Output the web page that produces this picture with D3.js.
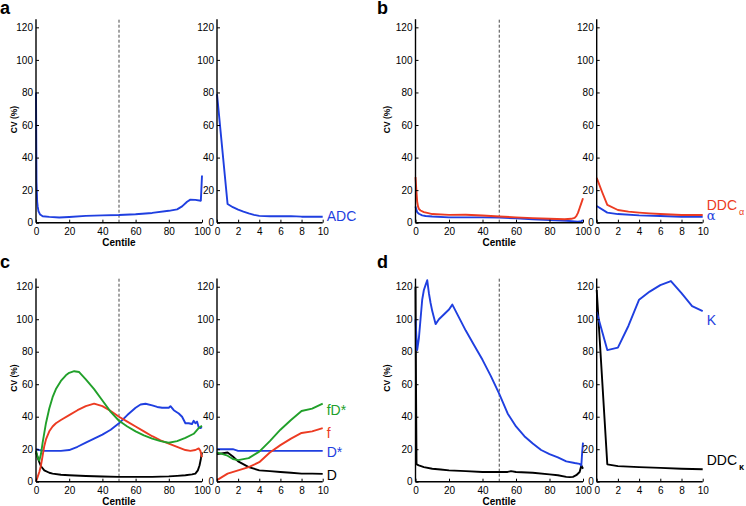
<!DOCTYPE html>
<html>
<head>
<meta charset="utf-8">
<script src="https://cdn.jsdelivr.net/npm/d3@7"></script>
<style>
  html, body { margin: 0; padding: 0; background: #fff; }
  svg { display: block; font-family: "Liberation Sans", Arial, Helvetica, sans-serif; }
</style>
</head>
<body>
<svg id="chart" width="746" height="506"></svg>
<script>
// ---------------- DATA ----------------
const yTicks = [0, 20, 40, 60, 80, 100, 120];
const mainTicks = [0, 20, 40, 60, 80, 100];
const insetTicks = [0, 2, 4, 6, 8, 10];
const panelLetters = ["a", "b", "c", "d"];

// Panel a: ADC
const aADC_x = [0, 0.3, 0.7, 1, 1.5, 2.5, 4, 8, 14, 20, 30, 40, 50, 60, 70, 80, 85, 88, 91, 93, 96, 99.3, 99.6, 100];
const aADC_y = [80, 25, 13, 10, 7, 5, 4, 3.6, 3.2, 3.5, 4.2, 4.5, 4.7, 5.2, 6, 7.3, 8.2, 10, 12.9, 14.2, 14, 13.5, 20, 29];
const aADCin_x = [0, 1, 1.5, 2, 2.5, 3, 3.5, 4, 5, 6, 7, 7.5, 8, 9, 10];
const aADCin_y = [79, 11.5, 9.5, 8, 6.8, 5.7, 4.8, 4.2, 4, 4, 4, 3.9, 3.7, 3.7, 3.7];

// Panel b: DDC alpha (red), alpha (blue)
const bDDC_x = [0, 0.5, 1, 1.5, 2, 3, 5, 7, 10, 20, 30, 40, 50, 60, 70, 80, 89, 93, 95, 96, 97, 98, 99, 100];
const bDDC_y = [28, 20, 13, 10, 8.5, 7.5, 6.5, 6, 5.3, 4.8, 4.9, 4.4, 3.8, 3.3, 2.8, 2.4, 2.1, 2.4, 3, 4, 6, 9, 12, 15];
const bAlpha_x = [0, 0.5, 1, 2, 4, 6, 10, 20, 40, 50, 60, 70, 80, 90, 95, 97, 99, 100];
const bAlpha_y = [10, 8, 6.5, 5.5, 4.5, 4.1, 3.8, 3.3, 3.3, 3.1, 2.7, 2.1, 1.7, 1.2, 0.8, 0.6, 1, 1.6];
const bDDCin_x = [0, 0.5, 1, 2, 3, 4, 5, 6, 7, 8, 9, 10];
const bDDCin_y = [27.5, 19, 10.9, 7.8, 6.8, 6.2, 5.7, 5.3, 5, 4.7, 4.7, 4.7];
const bAlphain_x = [0, 1, 2, 4, 6, 8, 10];
const bAlphain_y = [10.3, 6.2, 5.3, 4.5, 4.1, 3.7, 3.7];

// Panel c: fD* (green), f (red), D* (blue), D (black)
const cFDs_x = [0, 1, 2, 3, 4, 5, 6, 8, 10, 12, 15, 18, 20, 23, 26, 30, 35, 40, 45, 50, 55, 60, 65, 70, 75, 80, 85, 90, 95, 98, 100];
const cFDs_y = [19, 15, 13, 17, 24, 30, 36, 45, 52, 57, 62, 65.5, 67, 68, 67.5, 63, 57, 50, 43, 37.5, 34, 31, 28.5, 26.5, 25, 24, 25, 27, 29.5, 33, 34.5];
const cF_x = [0, 1, 2, 3, 4, 5, 6, 8, 10, 12, 15, 20, 25, 30, 35, 40, 45, 50, 55, 60, 65, 70, 75, 80, 85, 90, 93, 96, 98, 99, 100];
const cF_y = [0, 3, 6, 10, 16, 22, 26, 31, 34, 36, 38, 41, 44, 46.5, 48, 46.5, 43.5, 40, 37, 34, 31, 28, 25.5, 23.5, 21.5, 19.5, 19, 19.5, 20.5, 19, 15];
const cDs_x = [0, 2, 5, 10, 15, 20, 25, 30, 35, 40, 45, 50, 55, 60, 63, 66, 70, 73, 76, 80, 81, 83, 86, 88, 90, 92, 94, 95, 96, 97, 98, 99, 100];
const cDs_y = [20, 19.5, 19, 19, 19, 19.5, 21.5, 24, 26.5, 29, 32, 36, 41, 45.5, 47.5, 48, 47, 46, 45.5, 45.5, 46.5, 44, 42, 40, 36, 36, 35.5, 37.5, 36, 37, 33.5, 33, 33.5];
const cD_x = [0, 1, 2, 3, 5, 8, 10, 15, 20, 30, 40, 50, 60, 70, 80, 85, 90, 94, 96, 97.5, 98.5, 99.3, 100];
const cD_y = [18, 15, 12, 9.5, 7, 5.5, 5, 4.3, 4, 3.5, 3.2, 3, 3, 3, 3.3, 3.6, 4, 4.5, 5, 7, 10, 14, 18];
const cFDsin_x = [0, 1, 1.5, 2, 3, 4, 5, 6, 7, 8, 9, 10];
const cFDsin_y = [18, 16, 14, 13.3, 14.5, 18.5, 25, 32, 38, 43.5, 45, 48];
const cFin_x = [0, 1, 2, 3, 4, 5, 6, 7, 8, 9, 10];
const cFin_y = [1, 5, 7, 9, 12, 18, 22.5, 26.5, 30, 31, 33];
const cDsin_x = [0, 1.5, 2, 10];
const cDsin_y = [20, 20, 19, 19];
const cDin_x = [0, 1, 1.5, 2, 3, 4, 5, 6, 7, 8, 9, 10];
const cDin_y = [17, 18, 15.5, 12.5, 9, 7, 6.5, 6, 5.5, 5, 5, 4.8];

// Panel d: K (blue), DDC kappa (black)
const dK_x = [0, 0.5, 1, 2, 3, 4, 5, 6, 7, 8, 9, 10, 12, 14, 16, 18, 20, 22, 23, 25, 30, 35, 40, 45, 50, 55, 60, 65, 70, 75, 80, 85, 90, 95, 98, 99, 99.5, 100];
const dK_y = [100, 90, 81, 88, 100, 112, 118, 121, 124, 116, 110, 105, 97, 100, 102, 104, 106, 109, 107, 103, 93, 84, 75, 65, 54, 42, 34, 28, 23.5, 19.5, 17, 15, 12.5, 11.5, 11, 10, 18, 24];
const dDDC_x = [0, 0.3, 0.6, 1, 2, 5, 10, 15, 20, 30, 40, 50, 55, 57, 60, 70, 80, 85, 90, 92, 94, 96, 98, 99, 100];
const dDDC_y = [120, 60, 11, 10.5, 10, 9, 8, 7.5, 7, 6.5, 6, 6, 6, 6.5, 6, 5.5, 4.5, 4, 3, 2.8, 3, 4, 6, 10, 8];
const dKin_x = [0, 1, 2, 3, 4, 5, 6, 7, 8, 9, 10];
const dKin_y = [104.5, 81, 82.5, 96, 112, 117, 121, 123.5, 116, 108, 105];
const dDDCin_x = [0, 1, 2, 4, 6, 8, 10];
const dDDCin_y = [118, 10.7, 9.6, 9, 8.5, 8, 7.7];

// ---------------- STYLE / LAYOUT ----------------
const BLUE = "#1f3fe0", RED = "#ec3b22", GREEN = "#21a02a", BLACK = "#000";
const svg = d3.select("#chart");

const cols = [
  { main: [36, 202], inset: [217, 322.7], letterX: 0, cvX: 17.3 },
  { main: [415.5, 583], inset: [596.7, 702.7], letterX: 377, cvX: 389.5 }
];
const rows = [
  { y0: 222.7, yTop: 19.2, letterY: 14, centileY: 246, cvY: 119.5 },
  { y0: 481.7, yTop: 278.6, letterY: 268, centileY: 505, cvY: 378 }
];

function zip(xs, ys) { return xs.map((x, i) => [x, ys[i]]); }

const panels = [
  { col: 0, row: 0, letter: "a",
    main: [{ x: aADC_x, y: aADC_y, c: BLUE }],
    inset: [{ x: aADCin_x, y: aADCin_y, c: BLUE }],
    labels: [{ parts: [["ADC", BLUE]], v: 1.2 }] },
  { col: 1, row: 0, letter: "b",
    main: [{ x: bAlpha_x, y: bAlpha_y, c: BLUE }, { x: bDDC_x, y: bDDC_y, c: RED }],
    inset: [{ x: bAlphain_x, y: bAlphain_y, c: BLUE }, { x: bDDCin_x, y: bDDCin_y, c: RED }],
    labels: [{ parts: [["DDC", RED], ["α", RED, true]], v: 7.8 },
             { parts: [["α", BLUE]], v: 1.6, serif: true, size: 13 }] },
  { col: 0, row: 1, letter: "c",
    main: [{ x: cD_x, y: cD_y, c: BLACK }, { x: cDs_x, y: cDs_y, c: BLUE }, { x: cF_x, y: cF_y, c: RED }, { x: cFDs_x, y: cFDs_y, c: GREEN }],
    inset: [{ x: cDin_x, y: cDin_y, c: BLACK }, { x: cDsin_x, y: cDsin_y, c: BLUE }, { x: cFin_x, y: cFin_y, c: RED }, { x: cFDsin_x, y: cFDsin_y, c: GREEN }],
    labels: [{ parts: [["fD*", GREEN]], v: 41 }, { parts: [["f", RED]], v: 27 },
             { parts: [["D*", BLUE]], v: 15 }, { parts: [["D", BLACK]], v: 1 }] },
  { col: 1, row: 1, letter: "d",
    main: [{ x: dDDC_x, y: dDDC_y, c: BLACK }, { x: dK_x, y: dK_y, c: BLUE }],
    inset: [{ x: dDDCin_x, y: dDDCin_y, c: BLACK }, { x: dKin_x, y: dKin_y, c: BLUE }],
    labels: [{ parts: [["K", BLUE]], v: 96.5 }, { parts: [["DDC", BLACK], ["κ", BLACK, true, true]], v: 10.3 }] }
];

function drawAxes(g, x, y, ticks, yr) {
  const ax = g.append("g").attr("transform", `translate(0,${yr.y0})`)
    .call(d3.axisBottom(x).tickValues(ticks).tickSizeInner(-3).tickSizeOuter(0).tickPadding(5));
  const ay = g.append("g").attr("transform", `translate(${x.range()[0]},0)`)
    .call(d3.axisLeft(y).tickValues(yTicks).tickSizeInner(-3).tickSizeOuter(0).tickPadding(3));
  [ax, ay].forEach(a => {
    a.selectAll(".domain").attr("stroke", "#000").attr("stroke-width", 1.4);
    a.selectAll(".tick line").attr("stroke", "#000").attr("stroke-width", 1);
    a.selectAll(".tick text").attr("fill", "#000").attr("font-size", 10)
      .attr("font-family", "'Liberation Sans', Arial, sans-serif");
  });
  ay.select(".domain").attr("d", `M0,${y(0)}V${y(125)}`);
  ax.select(".domain").attr("d", `M${x.range()[0]},0H${x.range()[1]}`);
}

panels.forEach(p => {
  const col = cols[p.col], row = rows[p.row];
  const y = d3.scaleLinear().domain([0, 125]).range([row.y0, row.yTop]);
  const xm = d3.scaleLinear().domain([0, 100]).range(col.main);
  const xi = d3.scaleLinear().domain([0, 10]).range(col.inset);
  const g = svg.append("g");

  // dashed median line
  g.append("line").attr("x1", xm(50)).attr("x2", xm(50)).attr("y1", y(0)).attr("y2", y(125))
    .attr("stroke", "#333").attr("stroke-width", 0.9).attr("stroke-dasharray", "3,2");

  const lm = d3.line().x(d => xm(d[0])).y(d => y(d[1]));
  const li = d3.line().x(d => xi(d[0])).y(d => y(d[1]));
  p.main.forEach(s => g.append("path").attr("d", lm(zip(s.x, s.y))).attr("fill", "none")
    .attr("stroke", s.c).attr("stroke-width", 1.9).attr("stroke-linejoin", "round"));
  p.inset.forEach(s => g.append("path").attr("d", li(zip(s.x, s.y))).attr("fill", "none")
    .attr("stroke", s.c).attr("stroke-width", 1.9).attr("stroke-linejoin", "round"));

  drawAxes(g, xm, y, mainTicks, row);
  drawAxes(g, xi, y, insetTicks, row);

  // panel letter
  g.append("text").attr("x", col.letterX).attr("y", row.letterY).text(p.letter)
    .attr("font-size", 18).attr("font-weight", "bold").attr("fill", "#000");
  // axis titles
  g.append("text").attr("x", (col.main[0] + col.main[1]) / 2).attr("y", row.centileY)
    .attr("text-anchor", "middle").attr("font-size", 10).attr("font-weight", "bold").text("Centile");
  g.append("text").attr("transform", `translate(${col.cvX},${row.cvY}) rotate(-90)`)
    .attr("text-anchor", "middle").attr("font-size", 8.5).attr("font-weight", "bold").text("CV (%)");

  // series labels
  p.labels.forEach(l => {
    const t = g.append("text").attr("x", col.inset[1] + 4).attr("y", y(l.v))
      .attr("font-size", l.size || 14);
    if (l.serif) t.attr("font-family", "'DejaVu Serif', serif");
    l.parts.forEach(([txt, c, sub, bold]) => {
      const ts = t.append("tspan").text(txt).attr("fill", c);
      if (sub) ts.attr("font-size", 9).attr("dy", 5).attr("dx", 2);
      if (bold) ts.attr("font-weight", "bold");
    });
  });
});
</script>
</body>
</html>
